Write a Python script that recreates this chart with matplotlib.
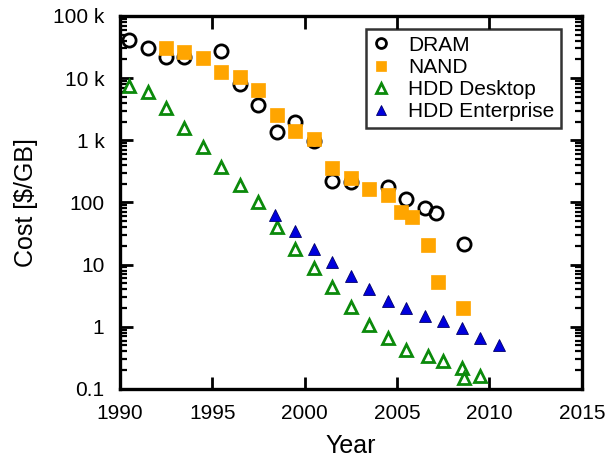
import matplotlib
matplotlib.use("Agg")
import matplotlib.pyplot as plt
from matplotlib.ticker import FixedLocator, LogLocator, NullFormatter

plt.rcParams['font.family'] = ['Liberation Sans', 'DejaVu Sans']

dram_years = [1990.5, 1991.5, 1992.5, 1993.5, 1995.5, 1996.5, 1997.5, 1998.5, 1999.5,
              2000.5, 2001.5, 2002.5, 2004.5, 2005.5, 2006.5, 2007.1, 2008.6]
dram_cost = [41000, 31000, 22000, 22000, 27000, 8000, 3700, 1370, 1940,
             980, 218, 210, 175, 113, 80, 67, 21.5]

nand_years = [1992.5, 1993.5, 1994.5, 1995.5, 1996.5, 1997.5, 1998.5, 1999.5, 2000.5,
              2001.5, 2002.5, 2003.5, 2004.5, 2005.2, 2005.8, 2006.7, 2007.2, 2008.55]
nand_cost = [30000, 25900, 21000, 12600, 10300, 6500, 2570, 1420, 1040,
             357, 244, 164, 133, 69, 59, 20.6, 5.2, 2.0]

hddd_years = [1990.5, 1991.5, 1992.5, 1993.5, 1994.5, 1995.5, 1996.5, 1997.5, 1998.5,
              1999.5, 2000.5, 2001.5, 2002.5, 2003.5, 2004.5, 2005.5, 2006.7, 2007.5,
              2008.5, 2008.6, 2009.5]
hddd_cost = [7500, 5900, 3260, 1570, 770, 375, 193, 100, 40,
             17.8, 8.7, 4.3, 2.1, 1.07, 0.65, 0.43, 0.336, 0.285,
             0.215, 0.149, 0.164]

hdde_years = [1998.4, 1999.5, 2000.5, 2001.5, 2002.5, 2003.5, 2004.5, 2005.5, 2006.5,
              2007.5, 2008.5, 2009.5, 2010.5]
hdde_cost = [62, 35, 17.8, 10.9, 6.5, 4.05, 2.63, 2.0, 1.51,
             1.25, 0.95, 0.65, 0.50]

x_ticks = [1990, 1995, 2000, 2005, 2010, 2015]
y_ticks = [0.1, 1, 10, 100, 1000, 10000, 100000]
y_tick_labels = ['0.1', '1', '10', '100', '1 k', '10 k', '100 k']

fig = plt.figure(figsize=(6.08, 4.57), dpi=100)
ax = fig.add_axes([0.197, 0.149, 0.760, 0.816])

ax.plot(dram_years, dram_cost, linestyle='none', marker='o', markersize=9.5,
        markerfacecolor='none', markeredgecolor='black', markeredgewidth=2.0, label='DRAM')
ax.plot(nand_years, nand_cost, linestyle='none', marker='s', markersize=9.5,
        markerfacecolor='#FFA500', markeredgecolor='#FFA500', markeredgewidth=0.5, label='NAND')
ax.plot(hddd_years, hddd_cost, linestyle='none', marker='^', markersize=9,
        markerfacecolor='none', markeredgecolor='#0B8A0B', markeredgewidth=2.0, label='HDD Desktop')
ax.plot(hdde_years, hdde_cost, linestyle='none', marker='^', markersize=9,
        markerfacecolor='#0000DD', markeredgecolor='#00006A', markeredgewidth=0.6, label='HDD Enterprise')

ax.set_yscale('log')
ax.set_xlim(1990, 2015)
ax.set_ylim(0.1, 100000)

ax.xaxis.set_major_locator(FixedLocator(x_ticks))
ax.set_xticks(x_ticks)
ax.set_xticklabels([str(x) for x in x_ticks])
ax.set_yticks(y_ticks)
ax.set_yticklabels(y_tick_labels)
ax.yaxis.set_minor_locator(LogLocator(base=10, subs=range(2, 10), numticks=20))
ax.yaxis.set_minor_formatter(NullFormatter())

ax.tick_params(axis='both', which='major', direction='in', length=9, width=2,
               top=True, right=True, labelsize=15, colors='black')
ax.tick_params(axis='y', which='minor', direction='in', length=5, width=1.6,
               left=True, right=True)
ax.tick_params(axis='y', which='major', pad=11)
ax.tick_params(axis='x', which='major', pad=11)
ax.tick_params(axis='x', which='minor', bottom=False, top=False)

for s in ax.spines.values():
    s.set_linewidth(2.4)

ax.set_xlabel('Year', fontsize=18, labelpad=8)
ax.set_ylabel('Cost [$/GB]', fontsize=18, labelpad=11)

leg = ax.legend(loc='upper right', bbox_to_anchor=(0.955, 0.965), fontsize=15,
                frameon=True, fancybox=False, handlelength=0.8, handletextpad=0.9,
                labelspacing=0.15, borderpad=0.32, borderaxespad=0, markerscale=0.75)
leg.get_frame().set_edgecolor('black')
leg.get_frame().set_linewidth(1.8)

fig.savefig('out.png', dpi=100)
